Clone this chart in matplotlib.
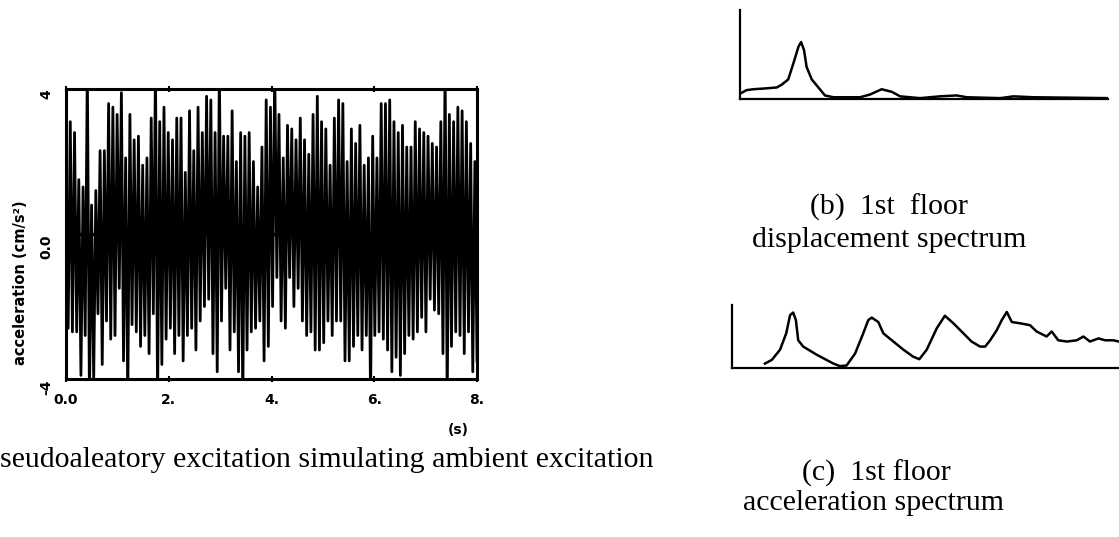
import numpy as np
import matplotlib
matplotlib.use("Agg")
import matplotlib.pyplot as plt

# (a) pseudo-aleatory excitation, alternating peaks/troughs (cm/s^2)
accel = [
    # 0 - 2 s
    2.4, -2.6, 3.1, -2.7, 2.8, -2.7, 1.5, -3.9, 1.3, -2.8, 4.6, -4.6, 0.8, -4.0,
    1.2, -2.2, 2.3, -3.6, 2.3, -2.4, 3.6, -2.9, 3.5, -2.8, 3.3, -1.5, 3.9, -3.5,
    2.1, -4.6, 3.3, -2.5, 2.6, -2.7, 2.7, -3.1, 1.9, -2.8, 2.1, -3.3, 3.2, -2.2,
    4.6, -4.6, 3.1, -3.6, 3.5, -2.9, 2.8, -2.6, 2.6, -3.3,
    # 2 - 4 s
    3.2, -2.8, 3.2, -3.5, 1.7, -2.8, 3.4, -2.6, 2.3, -3.2, 3.5, -2.4, 2.8, -2.0,
    3.8, -1.8, 3.7, -3.3, 2.8, -3.8, 4.6, -2.4, 2.7, -1.5, 2.7, -3.2, 3.4, -2.7,
    2.0, -3.8, 2.8, -4.6, 2.7, -3.2, 2.8, -2.7, 2.0, -2.6, 1.3, -2.4, 2.4, -3.5,
    3.7, -3.1, 3.5, -2.0, 4.6, -1.2,
    # 4 - 6 s
    3.3, -2.4, 2.1, -2.6, 3.0, -1.2, 2.9, -2.0, 2.6, -1.5, 3.2, -2.4, 2.6, -2.8,
    2.2, -2.7, 3.3, -3.2, 3.8, -3.2, 3.1, -3.0, 2.9, -2.4, 1.9, -2.8, 3.2, -2.4,
    3.7, -2.4, 3.6, -3.5, 2.0, -3.5, 2.9, -3.1, 2.5, -2.8, 3.0, -3.2, 1.9, -2.8,
    2.1, -4.6, 2.7, -2.8, 2.1, -2.7, 3.6, -2.9,
    # 6 - 8 s
    3.6, -3.2, 3.7, -3.8, 3.1, -3.4, 2.8, -3.9, 3.0, -3.3, 2.4, -2.8, 2.4, -2.9,
    3.1, -2.7, 2.9, -2.3, 2.8, -2.7, 2.7, -1.8, 2.5, -2.1, 2.4, -2.2, 3.1, -3.3,
    4.6, -4.6, 3.3, -3.1, 3.1, -2.7, 3.5, -2.8, 3.4, -3.3, 3.1, -2.7, 2.5, -3.8,
    2.0, -3.5,
]
t_end = 8.0
xticks = [0, 2, 4, 6, 8]
xticklabels = ["0.0", "2.", "4.", "6.", "8."]
yticks = [-4, 0, 4]
yticklabels = ["-4", "0.0", "4"]

# (b) 1st floor displacement spectrum (arbitrary units)
freq_b = [0, 1.8, 3.6, 7.2, 10.0, 11.3, 13.1, 14.5, 15.9, 16.6, 17.4, 18.1, 19.5,
          21.3, 23.1, 25.4, 32.6, 35.3, 38.5, 41.3, 43.5, 48.9, 54.3, 58.9, 61.6,
          70.7, 74.3, 79.7, 100]
amp_b = [0.06, 0.10, 0.11, 0.12, 0.13, 0.16, 0.22, 0.40, 0.59, 0.64, 0.55, 0.36,
         0.22, 0.13, 0.04, 0.02, 0.02, 0.05, 0.11, 0.08, 0.03, 0.01, 0.03, 0.04,
         0.02, 0.01, 0.03, 0.02, 0.01]

# (c) 1st floor acceleration spectrum
freq_c = [8.5, 10.3, 12.4, 14.0, 15.0, 15.8, 16.5, 17.1, 18.4, 21.9, 26.2, 27.9,
          29.6, 31.8, 33.9, 35.2, 36.1, 37.8, 39.1, 41.7, 44.3, 46.8, 48.4, 50.3,
          52.9, 55.0, 57.2, 59.8, 61.9, 64.1, 65.4, 66.7, 68.4, 69.7, 71.0, 72.3,
          74.4, 77.0, 78.7, 81.3, 82.6, 84.3, 86.5, 89.1, 90.8, 92.5, 94.7, 96.4,
          98.5, 100]
amp_c = [0.07, 0.13, 0.29, 0.55, 0.84, 0.88, 0.76, 0.44, 0.34, 0.21, 0.07, 0.03,
         0.04, 0.23, 0.55, 0.76, 0.80, 0.73, 0.55, 0.42, 0.29, 0.18, 0.14, 0.29,
         0.63, 0.83, 0.71, 0.55, 0.42, 0.34, 0.34, 0.44, 0.60, 0.76, 0.89, 0.73,
         0.71, 0.68, 0.58, 0.50, 0.58, 0.44, 0.42, 0.44, 0.50, 0.42, 0.47, 0.44,
         0.44, 0.42]

serif = ["Liberation Serif", "DejaVu Serif"]
cap_size = 21.5

fig = plt.figure(figsize=(11.19, 5.37), dpi=100)

# --- (a) time history ---
ax = fig.add_axes([0.0590, 0.2942, 0.3673, 0.5400])
t = np.linspace(0, t_end, len(accel))
ax.plot(t, accel, color="black", lw=2.0)
ax.axhline(0, color="black", lw=2.4)
ax.set_xlim(0, t_end)
ax.set_ylim(-4, 4)
for s in ax.spines.values():
    s.set_linewidth(2.2)
ax.set_xticks(xticks)
ax.set_xticklabels(xticklabels, fontsize=10, fontweight="bold")
ax.set_yticks(yticks)
ax.set_yticklabels(yticklabels, fontsize=10, fontweight="bold", rotation=90, va="top")
ax.tick_params(axis="x", direction="inout", length=4, width=1.5, top=True, pad=8)
ax.tick_params(axis="y", length=0, pad=9)
fig.text(0.018, 0.473, "acceleration (cm/s²)", rotation=90, ha="center", va="center",
         fontsize=10.5, fontweight="bold")
fig.text(0.4093, 0.1993, "(s)", ha="center", va="center", fontsize=10, fontweight="bold")
fig.text(0.0, 0.1434, "seudoaleatory excitation simulating ambient excitation",
         ha="left", va="center", fontsize=cap_size, family=serif)

# --- (b) displacement spectrum ---
axb = fig.add_axes([0.6613, 0.8156, 0.3289, 0.1657])
axb.plot(freq_b, amp_b, color="black", lw=1.8)
axb.set_xlim(0, 100)
axb.set_ylim(0, 1)
axb.spines[["top", "right"]].set_visible(False)
axb.spines[["left", "bottom"]].set_linewidth(1.6)
axb.set_xticks([])
axb.set_yticks([])
fig.text(0.7945, 0.6145, "(b)  1st  floor", ha="center", va="center", fontsize=cap_size, family=serif)
fig.text(0.7945, 0.5531, "displacement spectrum", ha="center", va="center", fontsize=cap_size, family=serif)

# --- (c) acceleration spectrum ---
axc = fig.add_axes([0.6542, 0.3147, 0.3458, 0.1173])
axc.plot(freq_c, amp_c, color="black", lw=1.8)
axc.set_xlim(0, 100)
axc.set_ylim(0, 1)
axc.spines[["top", "right"]].set_visible(False)
axc.spines[["left", "bottom"]].set_linewidth(1.6)
axc.set_xticks([])
axc.set_yticks([])
fig.text(0.783, 0.1192, "(c)  1st floor", ha="center", va="center", fontsize=cap_size, family=serif)
fig.text(0.781, 0.0633, "acceleration spectrum", ha="center", va="center", fontsize=cap_size, family=serif)

fig.savefig("out.png", dpi=100)
